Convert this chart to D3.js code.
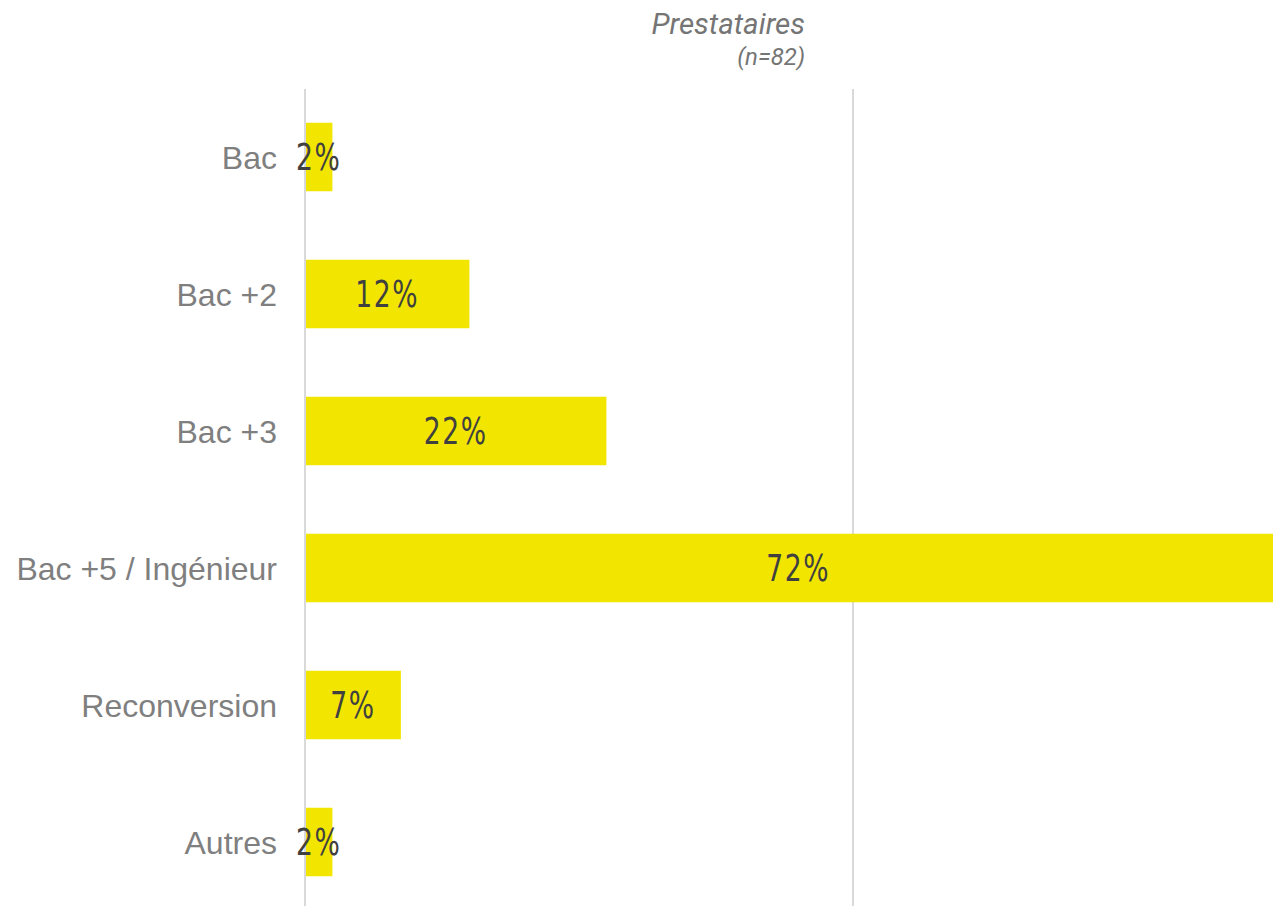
<!DOCTYPE html>
<meta charset="utf-8">
<script src="https://cdn.jsdelivr.net/npm/d3@7"></script>
<style> body{margin: 0; background: #fff;} </style>
<div id="vis"></div>
<script>
const categories = ["Bac", "Bac +2", "Bac +3", "Bac +5 / Ingénieur", "Reconversion", "Autres"]
const values = [2, 12, 22, 72, 7, 2]
const gridTicks = [0, 40]
const title = "Prestataires"
const subtitle = "(n=82)"

const width = 1273, height = 906
const svg = d3.select("#vis").append("svg")
  .attr("width", width)
  .attr("height", height)
  .style("display", "block")

const x = d3.scaleLinear().domain([0, 80]).range([305, 1401])
const y = d3.scaleBand()
  .domain(categories)
  .range([88.5, 910.5])
  .paddingInner(0.5)
  .paddingOuter(0.25)

// gridlines
svg.selectAll("line.grid")
  .data(gridTicks)
  .enter().append("line")
  .attr("x1", d => x(d)).attr("x2", d => x(d))
  .attr("y1", 89).attr("y2", height)
  .attr("stroke", "#d9d9d9")
  .attr("stroke-width", 2)

// bars
svg.selectAll("rect")
  .data(values)
  .enter().append("rect")
  .attr("x", x(0) + 1)
  .attr("y", (d, i) => y(categories[i]))
  .attr("width", d => x(d) - x(0) - 1)
  .attr("height", y.bandwidth())
  .attr("fill", "#f2e600")

// value labels (condensed look via horizontal squeeze)
svg.selectAll("text.val")
  .data(values)
  .enter().append("text")
  .attr("class", "val")
  .attr("transform", (d, i) => `translate(${(x(0) + x(d)) / 2},${y(categories[i]) + y.bandwidth() / 2}) scale(0.8,1)`)
  .attr("dy", "0.36em")
  .attr("text-anchor", "middle")
  .style("font-family", "'DejaVu Sans Condensed', 'DejaVu Sans', sans-serif")
  .style("font-stretch", "condensed")
  .style("font-size", "37px")
  .style("letter-spacing", "2px")
  .attr("fill", "#404040")
  .text(d => d + "%")

// category labels
svg.selectAll("text.cat")
  .data(categories)
  .enter().append("text")
  .attr("class", "cat")
  .attr("x", 277)
  .attr("y", d => y(d) + y.bandwidth() / 2)
  .attr("dy", "0.36em")
  .attr("text-anchor", "end")
  .style("font-family", "'Liberation Sans', Arial, sans-serif")
  .style("font-size", "32px")
  .attr("fill", "#7f7f7f")
  .text(d => d)

// title
svg.append("text")
  .attr("x", 805).attr("y", 34)
  .attr("text-anchor", "end")
  .style("font-family", "Roboto, sans-serif")
  .style("font-style", "italic")
  .style("font-size", "29.5px")
  .attr("fill", "#757575")
  .text(title)
svg.append("text")
  .attr("x", 805).attr("y", 65)
  .attr("text-anchor", "end")
  .style("font-family", "Roboto, sans-serif")
  .style("font-style", "italic")
  .style("font-size", "24px")
  .attr("fill", "#757575")
  .text(subtitle)
</script>
